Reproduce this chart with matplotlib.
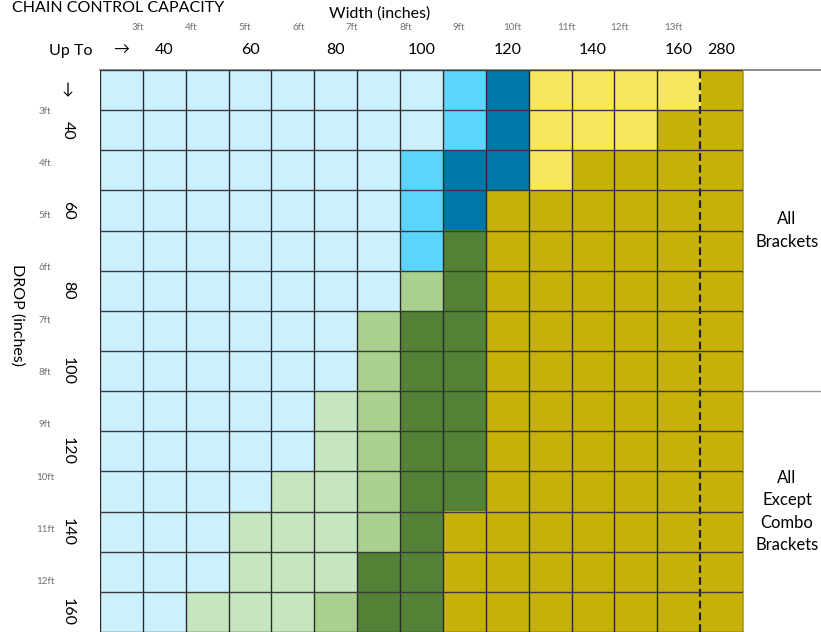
import matplotlib
matplotlib.use("Agg")
import matplotlib.pyplot as plt
from matplotlib.colors import ListedColormap

plt.rcParams['font.family'] = ['Lato', 'DejaVu Sans']

# Width (columns) and drop (rows) in inches
widths = [30, 40, 50, 60, 70, 80, 90, 100, 110, 120, 130, 140, 150, 160, 280]
drops = [30, 40, 50, 60, 70, 80, 90, 100, 110, 120, 130, 140, 150, 160]

# capacity zone of each cell, one string per drop row (one letter per width)
grid_rows = [
    "LLLLLLLLMDYYYYO",
    "LLLLLLLLMDYYYOO",
    "LLLLLLLMDDYOOOO",
    "LLLLLLLMDOOOOOO",
    "LLLLLLLMGOOOOOO",
    "LLLLLLLgGOOOOOO",
    "LLLLLLgGGOOOOOO",
    "LLLLLLgGGOOOOOO",
    "LLLLLpgGGOOOOOO",
    "LLLLLpgGGOOOOOO",
    "LLLLppgGGOOOOOO",
    "LLLpppgGOOOOOOO",
    "LLLpppGGOOOOOOO",
    "LLpppgGGOOOOOOO",
]

zone_colors = {
    'L': '#cdf0ff',  # light blue
    'M': '#5dd4fc',  # medium blue
    'D': '#0077a6',  # dark blue
    'Y': '#f7e75c',  # light yellow
    'O': '#c5b108',  # olive
    'p': '#c6e6c0',  # pale green
    'g': '#a9d08e',  # light green
    'G': '#538135',  # dark green
}

feet_w = [3, 4, 5, 6, 7, 8, 9, 10, 11, 12, 13]
feet_d = [3, 4, 5, 6, 7, 8, 9, 10, 11, 12]

notes = ["All\nBrackets", "All\nExcept\nCombo\nBrackets"]
note_rows = [(0, 8), (8, 14)]  # rows covered by each note

W, H = 821, 632
fig = plt.figure(figsize=(W / 100, H / 100), dpi=100)

# overlay axes in pixel coordinates for free text and lines
ov = fig.add_axes([0, 0, 1, 1])
ov.set_xlim(0, W)
ov.set_ylim(H, 0)
ov.axis('off')

left, top = 100, 70
cw = 643 / len(widths)
rh = 562 / len(drops)
ax = fig.add_axes([left / W, 1 - (top + rh * len(drops)) / H, cw * len(widths) / W, rh * len(drops) / H])

keys = list(zone_colors)
cmap = ListedColormap([zone_colors[k] for k in keys])
idx = [[keys.index(c) for c in row] for row in grid_rows]
ax.imshow(idx, cmap=cmap, vmin=-0.5, vmax=len(keys) - 0.5, aspect='auto', interpolation='nearest')

# cell borders
for i in range(len(widths) + 1):
    if i == len(widths) - 1:
        ax.axvline(i - 0.5, color='#222222', lw=1.6, ls=(0, (3.5, 1.8)))
    else:
        ax.axvline(i - 0.5, color='#2a2a2a', lw=1.0)
for j in range(len(drops) + 1):
    ax.axhline(j - 0.5, color='#3a3a3a', lw=1.0)
for s in ax.spines.values():
    s.set_visible(False)

# tick labels: every 20 inches, arrows on the first cell
ax.xaxis.tick_top()
ax.set_xticks(range(len(widths)))
ax.set_xticklabels(['\u2192' if i == 0 else (str(w) if w % 20 == 0 else '') for i, w in enumerate(widths)],
                   fontsize=11.5)
ax.set_yticks(range(len(drops)))
ax.set_yticklabels(['\u2193' if i == 0 else (str(d) if d % 20 == 0 else '') for i, d in enumerate(drops)],
                   fontsize=11.5, rotation=-90, va='center', ha='center')
ax.get_yticklabels()[0].set_rotation(0)
ax.tick_params(axis='x', length=0, pad=9)
ax.tick_params(axis='y', length=0, pad=23)

# top line and note separator
ov.plot([left, W], [top, top], color='#7a7a7a', lw=1.2)
for (r0, r1), txt in zip(note_rows, notes):
    ov.text(787, top + rh * (r0 + r1) / 2, txt, ha='center', va='center', fontsize=12, linespacing=1.5)
    if r0 > 0:
        ov.plot([left + cw * len(widths), W], [top + rh * r0] * 2, color='#9a9a9a', lw=1.0)

# feet markers
for f in feet_w:
    ov.text(138 + 53.5 * (f - 3), 28, f"{f}ft", ha='center', va='center', fontsize=7, color='#707070')
for f in feet_d:
    ov.text(45, 111 + 52.3 * (f - 3), f"{f}ft", ha='center', va='center', fontsize=7, color='#707070')

ov.text(12, 12, "CHAIN CONTROL CAPACITY", ha='left', va='baseline', fontsize=11.5)
ov.text(380, 14, "Width (inches)", ha='center', va='center', fontsize=11.5)
ov.text(71, 51, "Up To", ha='center', va='center', fontsize=11.5)
ov.text(17, 315, "DROP (inches)", ha='center', va='center', fontsize=11.5, rotation=-90)

fig.savefig("out.png", dpi=100)
